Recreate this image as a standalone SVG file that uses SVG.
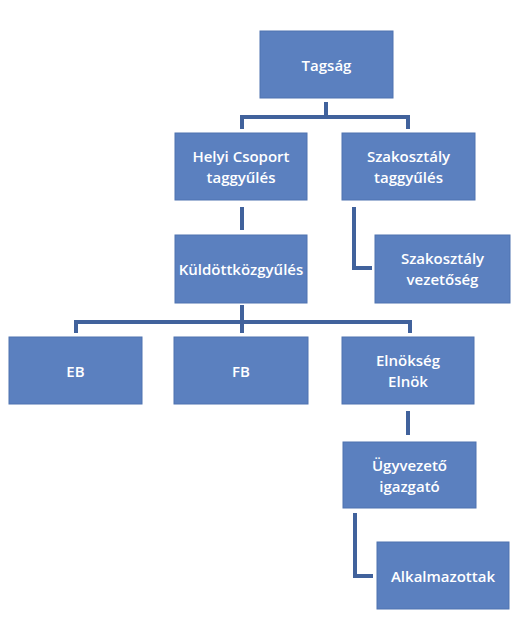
<svg xmlns="http://www.w3.org/2000/svg" width="520" height="625" viewBox="0 0 520 625">
<style>
.box{fill:#5b80bf;stroke:#4f73b0;stroke-width:1}
.t{fill:#fff;font-family:"Open Sans","Liberation Sans",sans-serif;font-weight:600;font-size:15px;text-anchor:middle;dominant-baseline:central}
.c{fill:none;stroke:#41629c;stroke-width:4}
</style>
<rect width="520" height="625" fill="#fff"/>
<g id="connectors">
<path class="c" d="M326 102V117M242 129V117H408V129"/>
<path class="c" d="M242 207V230"/>
<path class="c" d="M354 207V268H372"/>
<path class="c" d="M242 305V333M76 333V322H410V333"/>
<path class="c" d="M408 411V435"/>
<path class="c" d="M355 513V576H373"/>
</g>
<g id="tagsag"><rect class="box" x="260" y="31" width="133" height="67"/><text class="t" x="326.5" y="65">Tagság</text></g>
<g id="helyi"><rect class="box" x="175" y="133" width="132" height="67"/><text class="t" x="241" y="156">Helyi Csoport</text><text class="t" x="241" y="177">taggyűlés</text></g>
<g id="szak-tagg"><rect class="box" x="342" y="133" width="133" height="67"/><text class="t" x="408.5" y="156">Szakosztály</text><text class="t" x="408.5" y="177">taggyűlés</text></g>
<g id="kuldott"><rect class="box" x="175" y="235" width="132" height="68"/><text class="t" x="241" y="269">Küldöttközgyűlés</text></g>
<g id="szak-vez"><rect class="box" x="375" y="235" width="135" height="68"/><text class="t" x="442.5" y="258">Szakosztály</text><text class="t" x="442.5" y="279">vezetőség</text></g>
<g id="eb"><rect class="box" x="9" y="337" width="133" height="67"/><text class="t" x="75.5" y="371">EB</text></g>
<g id="fb"><rect class="box" x="174" y="337" width="134" height="67"/><text class="t" x="241" y="371">FB</text></g>
<g id="elnokseg"><rect class="box" x="342" y="337" width="132" height="67"/><text class="t" x="408" y="360">Elnökség</text><text class="t" x="408" y="381">Elnök</text></g>
<g id="ugyvezeto"><rect class="box" x="343" y="442" width="133" height="66"/><text class="t" x="409.5" y="465">Ügyvezető</text><text class="t" x="409.5" y="486">igazgató</text></g>
<g id="alkalmazottak"><rect class="box" x="377" y="542" width="132" height="67"/><text class="t" x="443" y="576">Alkalmazottak</text></g>
</svg>
